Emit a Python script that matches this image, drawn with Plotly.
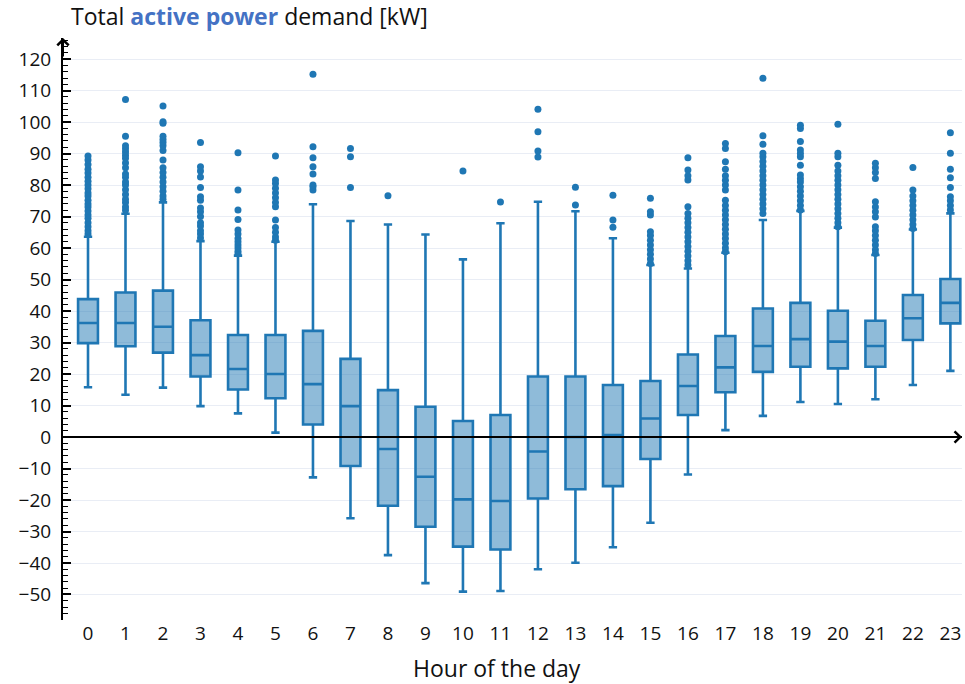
import plotly.graph_objects as go

hours = list(range(24))
tick_labels = [str(h) for h in hours]

q1 = [29.8, 28.8, 26.8, 19.2, 15.1, 12.3, 4.0, -9.2, -21.8, -28.5, -34.8, -35.7,
      -19.5, -16.6, -15.6, -7.0, 7.0, 14.2, 20.7, 22.3, 21.8, 22.3, 30.8, 36.1]
median = [36.2, 36.2, 35.0, 26.0, 21.6, 20.0, 16.8, 9.8, -3.8, -12.6, -19.8, -20.3,
          -4.6, 0.0, 0.6, 5.9, 16.2, 22.1, 28.9, 31.1, 30.3, 28.9, 37.7, 42.6]
q3 = [43.8, 45.9, 46.5, 37.1, 32.4, 32.4, 33.7, 24.8, 14.9, 9.6, 5.1, 7.0,
      19.2, 19.2, 16.5, 17.8, 26.2, 32.1, 40.8, 42.6, 40.1, 36.9, 45.1, 50.2]
lower_whisker = [15.8, 13.4, 15.7, 9.8, 7.5, 1.4, -12.8, -25.8, -37.5, -46.4, -49.1, -48.9,
                 -42.0, -39.9, -35.0, -27.2, -11.9, 2.2, 6.7, 11.1, 10.5, 12.0, 16.5, 21.0]
upper_whisker = [63.6, 70.9, 74.5, 62.2, 57.6, 62.0, 73.9, 68.6, 67.5, 64.3, 56.4, 67.9,
                 74.7, 71.7, 63.1, 54.6, 53.5, 58.5, 68.9, 71.8, 66.5, 57.8, 65.9, 71.0]

outliers = {
    0: [64.5, 65.5, 66.8, 68, 69.5, 70.5, 71.8, 73, 74, 75.2, 76.5, 77.5, 78.8, 80, 81.2,
        82.5, 83.8, 85, 86.5, 88, 89.2],
    1: [72, 73, 74.5, 75.5, 77, 78.5, 80, 81, 82.5, 83.5, 85.5, 87, 88.5, 89.5, 90.5, 91.5,
        92.5, 95.5, 107.2],
    2: [75.5, 76.5, 78, 79.5, 81, 82.5, 84, 85.5, 88, 91, 92.5, 93.5, 94.5, 95.5, 99.6,
        100.1, 105.1],
    3: [63.2, 64.5, 65.5, 67, 68, 70, 71.5, 72.7, 75.2, 76.3, 79.2, 82.6, 84.5, 85.8, 93.5],
    4: [58.2, 59, 60, 61, 62, 63, 64.5, 65.7, 69.1, 72.1, 78.4, 90.3],
    5: [62.5, 63.5, 65, 66.5, 68.9, 73.1, 74.5, 76, 77.5, 79, 80.5, 81.6, 89.2],
    6: [78.4, 79.5, 80, 83.5, 85.8, 88.7, 92.2, 115.2],
    7: [79.2, 89.0, 91.6],
    8: [76.6],
    9: [],
    10: [84.5],
    11: [74.6],
    12: [88.9, 90.8, 96.9, 104.1],
    13: [73.7, 79.3],
    14: [66.6, 68.9, 76.8],
    15: [55.1, 56.5, 58, 59.5, 61, 62.5, 64, 65.2, 70.5, 71.5, 75.8],
    16: [54.6, 56, 57.5, 59, 60.5, 62, 63.5, 65, 66.5, 68, 69.5, 71, 73.1, 81.6, 83, 84.8, 88.7],
    17: [58.8, 60, 61.5, 63, 64.5, 66, 67.5, 69, 70.5, 72, 73.5, 75.2, 78.4, 80, 81.5, 83,
         85, 87.4, 91.6, 93.2],
    18: [71, 72.5, 74, 75.5, 77, 78.5, 80, 81.5, 83, 84.5, 86, 87.5, 89, 90.1, 93.0, 95.7, 113.9],
    19: [72.1, 73.5, 75, 76.5, 78, 79.5, 81, 82, 83.2, 86.3, 89, 90, 91.1, 93.8, 98, 99],
    20: [66.8, 68, 69.5, 71, 72.5, 74, 75.5, 77, 78.5, 80, 81.5, 83, 84.5, 86.3, 89, 90.1, 99.3],
    21: [58.3, 59.5, 61, 62.5, 64, 65.5, 66.8, 69.9, 71.5, 73, 74.7, 82.1, 84, 85.5, 86.9],
    22: [66.2, 67.5, 69, 70.5, 72, 73.5, 75, 76.5, 78.4, 85.6],
    23: [72.1, 73.5, 75, 76.3, 79.2, 82.3, 85, 90.1, 96.6],
}

y_ticks = list(range(-50, 121, 10))

BLUE = "#1f77b4"
FONT = "Open Sans"

fig = go.Figure()
fig.add_trace(go.Box(
    x=hours, q1=q1, median=median, q3=q3,
    lowerfence=lower_whisker, upperfence=upper_whisker,
    boxpoints=False, width=0.53, whiskerwidth=0.42,
    fillcolor="rgba(31,119,180,0.5)",
    line=dict(color=BLUE, width=2.6),
    showlegend=False,
))

ox, oy = [], []
for h in hours:
    for v in outliers[h]:
        ox.append(h)
        oy.append(v)
fig.add_trace(go.Scatter(
    x=ox, y=oy, mode="markers",
    marker=dict(color=BLUE, size=7),
    showlegend=False,
))

# zero line (x axis) above the boxes
fig.add_shape(type="line", xref="paper", yref="y", x0=0, x1=1, y0=0, y1=0,
              line=dict(color="black", width=2.2), layer="above")

# arrow heads
fig.add_annotation(xref="paper", yref="y", x=1.0, y=0, ax=-20, ay=0,
                   showarrow=True, arrowhead=4, arrowsize=1.1, arrowwidth=2,
                   arrowcolor="black", text="")
fig.add_annotation(xref="paper", yref="paper", x=0, y=1.0, ax=0, ay=20,
                   showarrow=True, arrowhead=4, arrowsize=1.1, arrowwidth=2,
                   arrowcolor="black", text="")

# chart title (y-axis label)
fig.add_annotation(
    xref="paper", yref="paper", x=0.007, y=1.0, xanchor="left", yanchor="bottom",
    yshift=4, showarrow=False,
    text="Total <b><span style='color:#4472C4'>active power</span></b> demand [kW]",
    font=dict(family=FONT, size=23, color="#111"),
)
# x title
fig.add_annotation(
    xref="paper", yref="paper", x=0.483, y=0, xanchor="center", yanchor="top",
    yshift=-30, showarrow=False, text="Hour of the day",
    font=dict(family=FONT, size=23, color="#111"),
)

fig.update_layout(
    width=965, height=684,
    margin=dict(l=63, r=3, t=38, b=64),
    paper_bgcolor="white", plot_bgcolor="white",
    font=dict(family=FONT, size=19, color="#111"),
    xaxis=dict(
        range=[-0.667, 23.31], tickmode="array", tickvals=hours, ticktext=tick_labels,
        showgrid=False, zeroline=False, showline=False, ticks="",
        tickfont=dict(size=19),
    ),
    yaxis=dict(
        range=[-58.1, 126.7], tickmode="array", tickvals=y_ticks,
        showgrid=True, gridcolor="#e9edf5", gridwidth=1.3,
        zeroline=False, showline=True, linecolor="black", linewidth=2,
        ticks="inside", ticklen=8, tickwidth=1.5, tickcolor="black",
        minor=dict(dtick=2, ticks="inside", ticklen=5, tickcolor="black", tickwidth=1.2,
                   showgrid=False),
        ticklabelstandoff=6,
        tickfont=dict(size=19),
    ),
)

fig.write_html("out.html", config={"displayModeBar": False},
               post_script="document.body.style.margin='0';")
